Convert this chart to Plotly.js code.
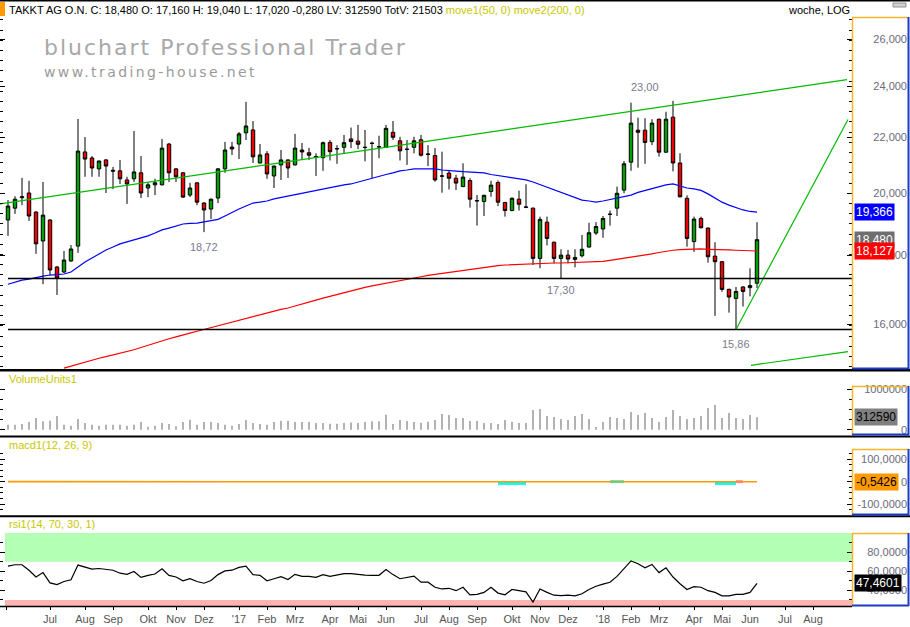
<!DOCTYPE html>
<html>
<head>
<meta charset="utf-8">
<script src="https://cdn.plot.ly/plotly-3.0.1.min.js"></script>
<style>
html,body{margin:0;padding:0;background:#fff;overflow:hidden;}
#chart{width:910px;height:627px;}
</style>
</head>
<body>
<div id="chart"></div>
<script>
// ---------- DATA (weekly candles, Friday dates) ----------
const weeks = [
'2016-05-20','2016-05-27','2016-06-03','2016-06-10','2016-06-17','2016-06-24','2016-07-01','2016-07-08','2016-07-15','2016-07-22',
'2016-07-29','2016-08-05','2016-08-12','2016-08-19','2016-08-26','2016-09-02','2016-09-09','2016-09-16','2016-09-23','2016-09-30',
'2016-10-07','2016-10-14','2016-10-21','2016-10-28','2016-11-04','2016-11-11','2016-11-18','2016-11-25','2016-12-02','2016-12-09',
'2016-12-16','2016-12-23','2016-12-30','2017-01-06','2017-01-13','2017-01-20','2017-01-27','2017-02-03','2017-02-10','2017-02-17',
'2017-02-24','2017-03-03','2017-03-10','2017-03-17','2017-03-24','2017-03-31','2017-04-07','2017-04-14','2017-04-21','2017-04-28',
'2017-05-05','2017-05-12','2017-05-19','2017-05-26','2017-06-02','2017-06-09','2017-06-16','2017-06-23','2017-06-30','2017-07-07',
'2017-07-14','2017-07-21','2017-07-28','2017-08-04','2017-08-11','2017-08-18','2017-08-25','2017-09-01','2017-09-08','2017-09-15',
'2017-09-22','2017-09-29','2017-10-06','2017-10-13','2017-10-20','2017-10-27','2017-11-03','2017-11-10','2017-11-17','2017-11-24',
'2017-12-01','2017-12-08','2017-12-15','2017-12-22','2017-12-29','2018-01-05','2018-01-12','2018-01-19','2018-01-26','2018-02-02',
'2018-02-09','2018-02-16','2018-02-23','2018-03-02','2018-03-09','2018-03-16','2018-03-23','2018-03-30','2018-04-06','2018-04-13',
'2018-04-20','2018-04-27','2018-05-04','2018-05-11','2018-05-18','2018-05-25','2018-06-01','2018-06-08'];

const open = [
19.11,19.50,19.85,20.01,19.37,18.44,19.11,17.64,17.49,17.82,
18.28,21.46,21.24,20.85,21.17,20.80,20.78,20.46,20.50,20.71,
20.18,20.29,20.29,21.75,20.85,20.71,19.94,20.36,19.67,19.47,
19.84,20.85,21.64,21.75,22.17,22.28,21.06,21.39,20.60,20.99,
21.17,20.99,21.53,21.43,21.27,21.25,21.81,21.57,21.63,21.94,
21.86,21.62,21.77,21.64,21.63,22.19,21.87,21.55,21.63,21.91,
21.37,21.33,20.59,20.70,20.52,20.23,20.44,19.74,19.72,20.06,
20.37,19.69,19.42,19.80,19.54,19.50,17.90,19.04,18.40,17.90,
18.00,17.87,17.98,18.25,18.69,18.82,19.29,19.50,20.11,21.09,
22.27,22.27,21.84,22.69,21.45,22.77,21.06,19.83,18.42,19.16,
18.85,17.97,17.80,16.98,16.72,17.05,17.03,17.16];
const high = [
19.77,19.90,20.53,20.43,19.40,20.39,19.14,17.67,18.13,18.31,
22.70,22.01,21.31,21.15,21.20,20.92,21.17,20.57,22.24,21.31,
20.36,20.50,21.94,21.79,20.87,20.73,20.36,20.38,19.70,19.82,
20.87,21.83,21.83,22.20,23.37,22.62,21.75,21.49,20.97,21.53,
21.19,22.13,21.79,21.61,21.41,21.84,21.90,21.71,22.09,22.37,
22.47,22.28,21.84,22.06,22.47,22.62,22.02,21.90,22.02,22.09,
21.71,21.60,21.47,20.81,20.64,21.05,20.52,19.94,19.95,20.43,
20.44,19.71,19.86,20.09,20.31,19.52,19.22,19.22,18.42,18.18,
18.16,18.18,18.63,19.02,19.04,19.24,19.42,20.23,21.13,23.34,
22.75,22.73,22.69,22.71,22.98,23.41,21.41,19.93,19.22,19.22,
18.87,18.40,17.82,17.00,17.05,17.07,17.60,19.04];
const low = [
18.60,19.31,19.60,19.08,18.04,17.13,17.40,16.82,17.46,17.80,
18.07,20.57,20.57,20.57,20.01,20.14,20.32,19.64,20.39,19.84,
19.87,19.94,20.27,20.39,20.39,19.84,19.87,19.60,18.72,19.14,
19.67,20.71,21.35,21.20,21.90,21.06,21.04,20.50,20.18,20.46,
20.53,20.97,21.17,21.17,20.60,20.78,21.15,21.03,21.41,21.60,
21.56,21.12,20.52,21.23,21.60,21.90,21.15,20.99,21.41,21.29,
20.95,20.40,20.02,20.13,20.11,20.21,19.52,18.93,19.24,19.88,
19.57,19.22,19.40,19.42,19.50,17.70,17.60,18.30,17.75,17.30,
17.75,17.63,17.93,18.23,18.63,18.54,18.93,19.24,20.00,20.78,
20.89,21.03,21.71,21.29,21.43,20.76,19.86,18.26,18.10,18.84,
17.77,16.23,16.91,16.32,15.86,16.49,16.78,17.02];
const close = [
19.57,19.80,19.88,19.24,18.35,19.27,17.55,17.31,17.85,18.19,
21.49,21.20,20.88,21.13,20.95,20.77,20.50,20.32,20.74,20.01,
20.29,20.36,21.60,20.71,20.57,19.87,20.18,19.70,19.44,19.80,
20.85,21.53,21.57,22.13,22.43,21.28,21.35,20.67,20.95,21.17,
20.88,21.60,21.46,21.34,21.29,21.80,21.47,21.58,21.80,21.84,
21.74,21.63,21.78,21.65,22.34,22.00,21.50,21.56,21.87,21.34,
21.38,20.46,20.60,20.52,20.35,20.56,19.80,19.75,19.93,20.28,
19.70,19.42,19.83,19.63,19.53,17.90,19.13,18.52,17.90,18.00,
17.88,17.93,18.18,18.70,18.90,19.16,19.30,20.00,21.03,22.54,
22.19,21.81,22.54,21.45,22.69,21.06,19.88,18.52,19.14,18.86,
17.95,17.80,16.98,16.76,16.92,16.92,17.09,18.48];

// moving averages
const move1 = [
17.13,17.19,17.25,17.28,17.33,17.37,17.40,17.42,17.43,17.49,
17.64,17.79,17.91,18.04,18.16,18.25,18.35,18.41,18.47,18.53,
18.60,18.69,18.79,18.85,18.92,18.98,19.00,19.01,19.05,19.08,
19.13,19.24,19.36,19.47,19.57,19.67,19.70,19.74,19.81,19.86,
19.91,19.94,19.99,20.04,20.11,20.15,20.20,20.25,20.29,20.32,
20.39,20.44,20.51,20.60,20.65,20.71,20.78,20.81,20.85,20.85,
20.85,20.85,20.81,20.78,20.77,20.75,20.74,20.72,20.71,20.65,
20.61,20.57,20.55,20.51,20.46,20.39,20.30,20.22,20.11,20.03,
19.94,19.86,19.77,19.74,19.70,19.74,19.79,19.84,19.89,19.94,
20.03,20.10,20.17,20.22,20.29,20.32,20.25,20.18,20.15,20.10,
19.98,19.84,19.70,19.60,19.52,19.44,19.39,19.366];
const move2 = [
null,null,null,null,null,null,null,null,14.85,14.90,
14.96,15.01,15.05,15.10,15.14,15.18,15.22,15.27,15.32,15.38,
15.44,15.50,15.56,15.61,15.66,15.70,15.76,15.81,15.86,15.91,
15.96,16.01,16.06,16.12,16.17,16.21,16.26,16.32,16.36,16.41,
16.45,16.50,16.55,16.60,16.67,16.73,16.78,16.84,16.90,16.95,
17.00,17.04,17.08,17.12,17.16,17.21,17.25,17.28,17.32,17.35,
17.39,17.42,17.46,17.49,17.52,17.55,17.58,17.61,17.63,17.66,
17.68,17.70,17.71,17.73,17.74,17.75,17.76,17.76,17.76,17.76,
17.77,17.77,17.77,17.78,17.79,17.81,17.84,17.87,17.90,17.93,
17.96,18.00,18.04,18.08,18.12,18.15,18.17,18.18,18.19,18.19,
18.18,18.18,18.17,18.16,18.15,18.14,18.13,18.127];

const volume = [
124000,124000,141000,191000,290000,207000,224000,340000,124000,100000,
265000,166000,124000,100000,124000,124000,124000,100000,124000,191000,
75000,100000,166000,141000,83000,191000,249000,124000,191000,191000,
166000,124000,100000,141000,240000,166000,141000,124000,191000,224000,
224000,191000,191000,191000,166000,166000,149000,149000,166000,182000,
166000,191000,207000,207000,373000,141000,240000,216000,191000,174000,
199000,240000,390000,365000,290000,290000,216000,216000,166000,166000,
141000,240000,199000,166000,166000,489000,514000,340000,315000,265000,
240000,340000,390000,265000,66000,191000,315000,290000,265000,439000,
365000,415000,290000,191000,315000,489000,340000,265000,290000,340000,
539000,614000,290000,415000,290000,265000,365000,312590];

const macd = [
0.15,0.18,0.20,0.15,0.02,0.05,-0.12,-0.28,-0.35,-0.36,
-0.05,0.15,0.26,0.35,0.38,0.39,0.36,0.30,0.30,0.22,
0.15,0.10,0.17,0.14,0.10,0.02,-0.02,-0.09,-0.16,-0.18,
-0.12,0.00,0.09,0.20,0.30,0.27,0.24,0.16,0.12,0.10,
0.06,0.10,0.10,0.09,0.07,0.10,0.10,0.10,0.12,0.13,
0.13,0.12,0.10,0.09,0.15,0.15,0.11,0.08,0.09,0.04,
0.01,-0.09,-0.16,-0.22,-0.28,-0.28,-0.37,-0.43,-0.44,-0.40,
-0.43,-0.46,-0.44,-0.44,-0.45,-0.64,-0.66,-0.70,-0.80,-0.82,
-0.83,-0.82,-0.76,-0.65,-0.52,-0.39,-0.27,-0.11,0.10,0.38,
0.56,0.65,0.77,0.77,0.84,0.74,0.55,0.31,0.17,0.04,
-0.14,-0.28,-0.46,-0.60,-0.69,-0.74,-0.73,-0.5426];
// visible histogram segments (candle index, value); null = gap
const histCyanIdx = [70,71,72,73,74,null,86,87,88,null,101,102,103,104];
const histCyanVal = [-8,-8,-8,-8,-8,null,0,0,0,null,-8,-8,-8,-8];
const histPinkIdx = [104,105];
const histPinkVal = [0,0];

const rsi = [
65.4,66.8,66.8,61.1,54.0,58.6,47.9,46.1,49.3,51.1,
66.5,64.0,62.2,62.9,62.2,61.1,58.0,56.8,59.7,53.6,
55.7,57.1,62.5,55.7,54.0,50.1,52.2,49.3,47.5,50.4,
56.5,60.4,61.1,64.0,65.4,56.5,55.7,50.1,52.2,54.3,
51.4,56.8,54.7,54.7,53.6,56.5,54.7,55.8,57.5,57.5,
56.5,56.0,55.8,55.8,61.8,56.5,52.2,53.5,55.0,48.6,
48.6,43.3,41.5,42.2,39.7,43.3,35.4,35.8,37.9,43.3,
37.2,35.4,41.0,39.7,38.5,27.9,41.5,37.9,35.0,34.5,
35.0,34.3,36.5,41.0,44.3,46.5,48.5,54.7,62.9,70.8,
67.9,63.6,67.2,58.6,63.6,54.0,47.0,41.0,44.0,43.3,
39.7,37.9,34.3,34.3,35.8,35.8,37.9,47.4601];

const tickDates = ['2016-05-18','2016-07-01','2016-08-05','2016-09-02','2016-10-07','2016-11-04','2016-12-02',
'2017-01-06','2017-02-03','2017-03-03','2017-04-07','2017-05-05','2017-06-02','2017-07-07','2017-08-04','2017-09-01',
'2017-10-06','2017-11-03','2017-12-01','2018-01-05','2018-02-02','2018-03-02','2018-04-06','2018-05-04','2018-06-01',
'2018-07-06','2018-08-03'];
const tickLabels = ["'16",'Jul','Aug','Sep','Okt','Nov','Dez',"'17",'Feb','Mrz','Apr','Mai','Jun','Jul','Aug','Sep',
'Okt','Nov','Dez',"'18",'Feb','Mrz','Apr','Mai','Jun','Jul','Aug'];

const priceTicks = [16,18,20,22,24,26];
const priceTickText = ['16,000','18,000','20,000','22,000','24,000','26,000'];

// drawn trend lines and support levels
const channelUpperX = ['2016-05-12','2018-09-06'], channelUpperY = [19.64, 24.27];
const channelLowerX = ['2018-06-02','2018-09-07'], channelLowerY = [14.92, 15.27];
const trendUpX = ['2018-05-18','2018-09-07'], trendUpY = [15.86, 22.68];
const supportX = ['2016-05-20','2018-09-11'];
const supportLevels = [17.30, 15.86];
// pivot labels: [candle index, text, pixel offset]
const pivots = [[28,'18,72',-15],[79,'17,30',-12],[104,'15,86',-15],[91,'23,00',14]];

// ---------- LAYOUT HELPERS ----------
const FONT = 'Liberation Sans, Arial, sans-serif';
const AX_TXT = '#6a6a7e';
const ORANGE = '#f5b52e', BLUE = '#1c3cc8';
const W = 910, PH = 607;
const X = p => p / W;
const Y = p => 1 - p / PH;
const fmt = (v, d) => v.toFixed(d).replace('.', ',');
const n = close.length - 1;

const mainRange = [Math.log10(14.826), Math.log10(27.006)];
const volRange = [-132000, 1087000];
const macdRange = [-149, 146];
const rsiRange = [23.7, 100];

const minorMain = [];
for (let k = -20; k <= 20; k++) { const v = 20 * Math.exp(k * 10.2 / 587); if (v > 14.85 && v < 27) minorMain.push(v); }

function baseAxis(domain, range, type, tickvals, minor) {
  return {domain, range, type, anchor: 'x', side: 'right', showticklabels: false,
    ticks: 'inside', ticklen: 5, tickwidth: 1, tickcolor: '#000', tickmode: 'array', tickvals,
    minor: Object.assign({ticks: 'inside', ticklen: 3, tickwidth: 1, tickcolor: '#000', showgrid: false}, minor),
    mirror: 'ticks', showgrid: false, zeroline: false, showline: false, fixedrange: true};
}
function labelAxis(base, range, type, tickvals, ticktext) {
  return {overlaying: base, anchor: 'free', position: 907 / W, side: 'left', range, type,
    tickmode: 'array', tickvals, ticktext, ticks: '', showgrid: false, zeroline: false, showline: false,
    tickfont: {family: FONT, size: 11, color: AX_TXT}, fixedrange: true};
}
function seg(x0, y0, x1, y1, color, width) {
  return {type: 'line', xref: 'paper', yref: 'paper', x0: X(x0), y0: Y(y0), x1: X(x1), y1: Y(y1), line: {color, width}};
}

// ---------- TRACES ----------
const traces = [];
traces.push({type: 'scatter', mode: 'lines', x: weeks, y: move2, yaxis: 'y', line: {color: '#ff0000', width: 1.2}, hoverinfo: 'skip'});
traces.push({type: 'scatter', mode: 'lines', x: weeks, y: move1, yaxis: 'y', line: {color: '#0000ff', width: 1.2}, hoverinfo: 'skip'});
traces.push({type: 'scatter', mode: 'lines', x: channelUpperX, y: channelUpperY, yaxis: 'y', line: {color: '#00bb00', width: 1.2}, hoverinfo: 'skip'});
traces.push({type: 'scatter', mode: 'lines', x: channelLowerX, y: channelLowerY, yaxis: 'y', line: {color: '#00bb00', width: 1.2}, hoverinfo: 'skip'});
traces.push({type: 'scatter', mode: 'lines', x: trendUpX, y: trendUpY, yaxis: 'y', line: {color: '#00bb00', width: 1.2}, hoverinfo: 'skip'});
supportLevels.forEach(lv => traces.push({type: 'scatter', mode: 'lines', x: supportX, y: [lv, lv], yaxis: 'y', line: {color: '#000', width: 1.5}, hoverinfo: 'skip'}));
traces.push({type: 'candlestick', x: weeks, open, high, low, close, yaxis: 'y', whiskerwidth: 0,
  increasing: {fillcolor: '#00a000', line: {color: '#000', width: 1}},
  decreasing: {fillcolor: '#f00000', line: {color: '#000', width: 1}}, hoverinfo: 'skip'});
traces.push({type: 'bar', x: weeks, y: volume, yaxis: 'y2', width: 86400000 * 1.2, marker: {color: '#7f7f7f', line: {width: 0}}, hoverinfo: 'skip'});
traces.push({type: 'scatter', mode: 'lines', x: histCyanIdx.map(i => i === null ? null : weeks[i]), y: histCyanVal, yaxis: 'y3', line: {color: '#00ffff', width: 3}, connectgaps: false, hoverinfo: 'skip'});
traces.push({type: 'scatter', mode: 'lines', x: histPinkIdx.map(i => weeks[i]), y: histPinkVal, yaxis: 'y3', line: {color: '#ff80c0', width: 3}, hoverinfo: 'skip'});
traces.push({type: 'scatter', mode: 'lines', x: weeks, y: macd, yaxis: 'y3', line: {color: '#ff9900', width: 1.6}, hoverinfo: 'skip'});
traces.push({type: 'scatter', mode: 'lines', x: weeks, y: rsi, yaxis: 'y4', line: {color: '#000', width: 1.2}, hoverinfo: 'skip'});
// anchors for label axes (invisible)
[['y5', close], ['y6', volume], ['y7', macd], ['y8', rsi]].forEach(([ax, arr]) =>
  traces.push({type: 'scatter', mode: 'markers', x: [weeks[n]], y: [arr[n]], yaxis: ax, marker: {opacity: 0, size: 1}, hoverinfo: 'skip'}));

// ---------- SHAPES ----------
const shapes = [
  {type: 'rect', xref: 'paper', yref: 'y4', x0: X(5), x1: X(852), y0: 70, y1: 100, fillcolor: '#b3ffb3', line: {width: 0}, layer: 'below'},
  {type: 'rect', xref: 'paper', yref: 'y4', x0: X(5), x1: X(852), y0: rsiRange[0], y1: 30, fillcolor: '#ffb3b3', line: {width: 0}, layer: 'below'},
  seg(0, 0.6, 910, 0.6, '#000', 2),
  {type: 'rect', xref: 'paper', yref: 'paper', x0: X(0), x1: X(5), y0: Y(16), y1: Y(2), fillcolor: '#ff9900', line: {width: 0}},
  {type: 'rect', xref: 'paper', yref: 'paper', x0: X(893), x1: X(906), y0: Y(7), y1: Y(3), fillcolor: '#d0d0d0', line: {color: '#909090', width: 1}},
  seg(0, 370.3, 910, 370.3, '#000', 2.5),
  seg(0, 436.5, 910, 436.5, '#000', 2),
  seg(0, 516.3, 910, 516.3, '#000', 2),
  seg(0, 606.5, 852, 606.5, '#000', 1.5)
];
[[17, 369], [386, 435], [449, 515], [533, 606]].forEach(([t, b]) => {
  shapes.push(seg(852.5, t, 852.5, b, ORANGE, 1.5));
  shapes.push(seg(852, t + 0.5, 909, t + 0.5, ORANGE, 1.5));
  shapes.push(seg(908.5, t, 908.5, b, BLUE, 2));
  shapes.push(seg(852, b - 0.5, 909, b - 0.5, BLUE, 2));
});

// ---------- ANNOTATIONS ----------
const ann = [];
const paperText = (x, y, text, opts) => Object.assign({xref: 'paper', yref: 'paper', x: X(x), y: Y(y), text, showarrow: false,
  xanchor: 'left', yanchor: 'middle', font: {family: FONT, size: 11, color: '#000'}}, opts || {});
ann.push(paperText(7, 10, `TAKKT AG O.N. C: ${fmt(close[n],3)} O: ${fmt(open[n],3)} H: ${fmt(high[n],3)} L: ${fmt(low[n],3)} -0,280 LV: ${volume[n]} TotV: 21503 <span style="color:#c8c800">move1(50, 0) move2(200, 0)</span>`));
ann.push(paperText(852, 10, 'woche, LOG', {xanchor: 'right'}));
ann.push(paperText(42, 47, '<span style="letter-spacing:2px">bluchart Professional Trader</span>', {font: {family: 'DejaVu Sans', size: 22, color: '#a8a8a8'}}));
ann.push(paperText(42, 72, '<span style="letter-spacing:2.4px">www.trading-house.net</span>', {font: {family: 'DejaVu Sans', size: 14, color: '#9a9a9a'}}));
ann.push(paperText(7, 379, 'VolumeUnits1', {font: {family: FONT, size: 11, color: '#c8c800'}}));
ann.push(paperText(7, 445, 'macd1(12, 26, 9)', {font: {family: FONT, size: 11, color: '#c8c800'}}));
ann.push(paperText(7, 524, 'rsi1(14, 70, 30, 1)', {font: {family: FONT, size: 11, color: '#c8c800'}}));
pivots.forEach(([i, txt, dy]) => ann.push({xref: 'x', yref: 'y', x: weeks[i],
  y: Math.log10(dy < 0 ? low[i] : Math.max(...high)), yshift: dy, text: txt, showarrow: false,
  font: {family: FONT, size: 11, color: '#7a7a90'}}));
const box = (yref, y, text, bg, fg) => ({xref: 'paper', x: X(854), xanchor: 'left', yref, y, yanchor: 'middle', text,
  bgcolor: bg, borderpad: 1, showarrow: false, font: {family: FONT, size: 12, color: fg}});
ann.push(box('y', Math.log10(move1[n]), fmt(move1[n], 3), '#0000ff', '#fff'));
ann.push(box('y', Math.log10(close[n]), fmt(close[n], 3), '#6e6e6e', '#fff'));
ann.push(box('y', Math.log10(move2[n]), fmt(move2[n], 3), '#ff0000', '#fff'));
ann.push(box('y2', volume[n], String(volume[n]), '#808080', '#000'));
ann.push(box('y3', macd[n], fmt(macd[n], 4), '#ff9900', '#000'));
ann.push(box('y4', rsi[n], fmt(rsi[n], 4), '#000', '#fff'));

const layout = {
  width: 910, height: 627, margin: {l: 0, r: 0, t: 0, b: 20, pad: 0},
  paper_bgcolor: '#fff', plot_bgcolor: '#fff', showlegend: false, hovermode: false, dragmode: false,
  font: {family: FONT, size: 11, color: '#000'},
  xaxis: {type: 'date', domain: [0, 852 / W], range: ['2016-05-12', '2018-09-11'], anchor: 'y4',
    tickmode: 'array', tickvals: tickDates, ticktext: tickLabels, ticks: 'outside', ticklen: 3, tickcolor: '#000',
    tickfont: {family: FONT, size: 11, color: '#555'}, showgrid: false, zeroline: false, showline: false,
    rangeslider: {visible: false}, fixedrange: true},
  yaxis: baseAxis([Y(369), Y(17)], mainRange, 'log', priceTicks, {tickmode: 'array', tickvals: minorMain}),
  yaxis2: baseAxis([Y(435), Y(386)], volRange, 'linear', [0, 1000000], {tickmode: 'linear', tick0: 0, dtick: 250000}),
  yaxis3: baseAxis([Y(515), Y(449)], macdRange, 'linear', [-100, 0, 100], {tickmode: 'linear', tick0: 0, dtick: 25}),
  yaxis4: baseAxis([Y(606), Y(533)], rsiRange, 'linear', [40, 60, 80], {tickmode: 'linear', tick0: 0, dtick: 10}),
  yaxis5: labelAxis('y', mainRange, 'log', priceTicks, priceTickText),
  yaxis6: labelAxis('y2', volRange, 'linear', [0, 1000000], ['0', '1000000']),
  yaxis7: labelAxis('y3', macdRange, 'linear', [-100, 0, 100], ['-100,0000', '0', '100,0000']),
  yaxis8: labelAxis('y4', rsiRange, 'linear', [40, 60, 80], ['40,0000', '60,0000', '80,0000']),
  shapes, annotations: ann
};

Plotly.newPlot('chart', traces, layout, {staticPlot: true, displayModeBar: false});
</script>
</body>
</html>
